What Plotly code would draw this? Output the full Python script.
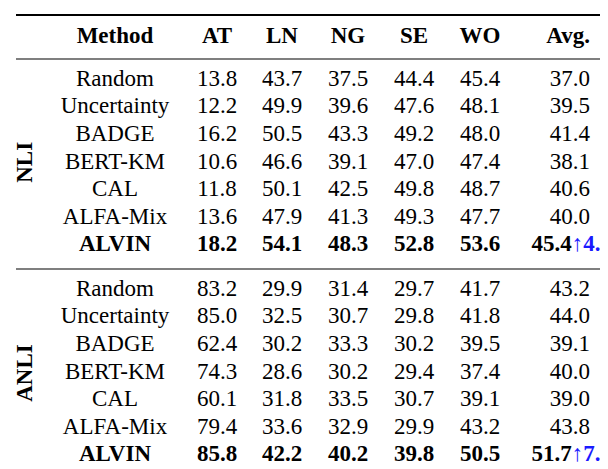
import plotly.graph_objects as go

methods = ["Random", "Uncertainty", "BADGE", "BERT-KM", "CAL", "ALFA-Mix", "ALVIN"]
columns = ["AT", "LN", "NG", "SE", "WO"]
groups = ["NLI", "ANLI"]
nli = [
    [13.8, 43.7, 37.5, 44.4, 45.4],
    [12.2, 49.9, 39.6, 47.6, 48.1],
    [16.2, 50.5, 43.3, 49.2, 48.0],
    [10.6, 46.6, 39.1, 47.0, 47.4],
    [11.8, 50.1, 42.5, 49.8, 48.7],
    [13.6, 47.9, 41.3, 49.3, 47.7],
    [18.2, 54.1, 48.3, 52.8, 53.6],
]
nli_avg = [37.0, 39.5, 41.4, 38.1, 40.6, 40.0, 45.4]
anli = [
    [83.2, 29.9, 31.4, 29.7, 41.7],
    [85.0, 32.5, 30.7, 29.8, 41.8],
    [62.4, 30.2, 33.3, 30.2, 39.5],
    [74.3, 28.6, 30.2, 29.4, 37.4],
    [60.1, 31.8, 33.5, 30.7, 39.1],
    [79.4, 33.6, 32.9, 29.9, 43.2],
    [85.8, 42.2, 40.2, 39.8, 50.5],
]
anli_avg = [43.2, 44.0, 39.1, 40.0, 39.0, 43.8, 51.7]
gains = [4.0, 7.7]

FONT = "Liberation Serif, Times New Roman, DejaVu Serif, serif"
FS = 23
W, H = 608, 469
col_x = [209, 274, 340, 406, 472]
method_x = 107
avg_x = 582
header_y = 29
row_y0 = [72, 282]
row_dy = 27.6

fig = go.Figure()
tf = dict(family=FONT, size=FS, color="black")

hx = [method_x] + col_x
ht = ["<b>Method</b>"] + [f"<b>{c}</b>" for c in columns]
fig.add_trace(go.Scatter(x=hx, y=[header_y] * len(hx), text=ht, mode="text",
                         textposition="middle center", textfont=tf, cliponaxis=False))
fig.add_trace(go.Scatter(x=[avg_x], y=[header_y], text=["<b>Avg.</b>"], mode="text",
                         textposition="middle left", textfont=tf, cliponaxis=False))

for gi, (data, avg) in enumerate([(nli, nli_avg), (anli, anli_avg)]):
    ys = [row_y0[gi] + i * row_dy for i in range(len(methods))]
    xs, yv, tv = [], [], []
    for i, m in enumerate(methods):
        bold = (i == len(methods) - 1)
        xs.append(method_x); yv.append(ys[i]); tv.append(f"<b>{m}</b>" if bold else m)
        for j, v in enumerate(data[i]):
            s = f"{v:.1f}"
            xs.append(col_x[j]); yv.append(ys[i]); tv.append(f"<b>{s}</b>" if bold else s)
    fig.add_trace(go.Scatter(x=xs, y=yv, text=tv, mode="text", textposition="middle center",
                             textfont=tf, cliponaxis=False))
    fig.add_trace(go.Scatter(x=[avg_x] * 6, y=ys[:6], text=[f"{v:.1f}" for v in avg[:6]],
                             mode="text", textposition="middle left", textfont=tf,
                             cliponaxis=False))
    fig.add_trace(go.Scatter(
        x=[604], y=[ys[6]],
        text=[f"<b>{avg[6]:.1f}</b><span style='color:#1a1aff'>↑<b>{gains[gi]:.1f}</b></span>"],
        mode="text", textposition="middle left", textfont=tf, cliponaxis=False))
    fig.add_annotation(x=17, y=(ys[0] + ys[-1]) / 2, text=f"<b>{groups[gi]}</b>",
                       textangle=-90, showarrow=False, font=tf)

for yl, w in [(7, 2), (51, 1.2), (261, 1.2)]:
    fig.add_shape(type="line", x0=8, x1=604, y0=yl, y1=yl, line=dict(color="black", width=w))

fig.update_layout(width=W, height=H, margin=dict(l=0, r=0, t=0, b=0),
                  plot_bgcolor="white", paper_bgcolor="white", showlegend=False,
                  xaxis=dict(range=[0, W], visible=False, fixedrange=True),
                  yaxis=dict(range=[H, 0], visible=False, fixedrange=True))
fig.write_html("out.html")
